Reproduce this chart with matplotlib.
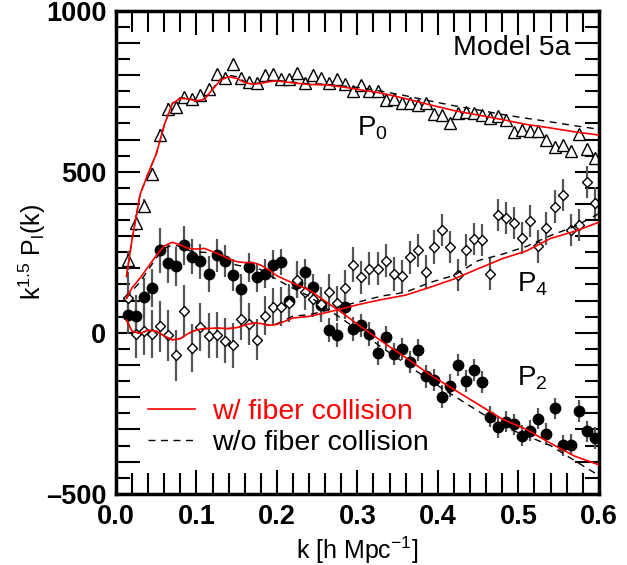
# multipoles of the power spectrum, Model 5a

import matplotlib
matplotlib.use('Agg')
import matplotlib.pyplot as plt
from matplotlib.ticker import MultipleLocator, FuncFormatter
from matplotlib.lines import Line2D

plt.rcParams['font.family'] = ['Liberation Sans', 'DejaVu Sans']
plt.rcParams['mathtext.default'] = 'regular'

# measured points (k in h/Mpc)
k_data = [0.005 + 0.01 * i for i in range(1, 60)]

p0 = [225, 340, 394, 493, 614, 696, 700, 731, 726, 738,
      756, 803, 791, 834, 792, 779, 777, 800, 804, 788,
      787, 808, 776, 801, 790, 777, 788, 772, 752, 769,
      752, 751, 722, 727, 715, 715, 707, 712, 679, 675,
      652, 684, 685, 681, 675, 668, 673, 660, 623, 629,
      627, 627, 598, 578, 583, 564, 616, 570, 543]
p0_err = [30, 25, 22, 20, 20, 18, 18, 17, 16, 16,
          16, 16, 16, 16, 15, 15, 15, 15, 15, 15,
          15, 15, 15, 15, 15, 15, 15, 15, 15, 15,
          15, 15, 15, 15, 15, 15, 15, 15, 15, 15,
          15, 15, 15, 15, 15, 15, 15, 15, 15, 15,
          15, 15, 15, 15, 15, 15, 15, 15, 15]

p2 = [55, 51, 111, 139, 256, 216, 206, 272, 236, 222,
      183, 240, 222, 180, 136, 203, 173, 183, 211, 220,
      99, 156, 190, 142, 86, 9, -7, 80, 11, 23,
      -4, -63, -14, -66, -50, -91, -53, -135, -146, -198,
      -164, -100, -150, -115, -153, -260, -292, -276, -284, -319,
      -304, -267, -314, -235, -349, -348, -243, -306, -327]
p2_err = [60, 65, 60, 60, 70, 60, 60, 60, 55, 55,
          55, 50, 50, 50, 45, 45, 45, 45, 45, 40,
          40, 40, 40, 40, 40, 38, 38, 38, 38, 36,
          36, 36, 36, 35, 35, 35, 35, 35, 35, 35,
          35, 35, 35, 34, 34, 34, 34, 33, 33, 33,
          33, 33, 33, 33, 33, 33, 33, 33, 33]

p4 = [109, -3, 5, -3, 20, -8, -70, 67, -47, 18,
      -9, -7, -24, -39, 43, 26, -21, 53, 80, 81,
      93, 165, 128, 104, 88, 128, 91, 140, 212, 172,
      199, 199, 224, 183, 175, 234, 256, 189, 267, 318,
      266, 180, 256, 291, 289, 183, 366, 357, 341, 294,
      348, 268, 324, 392, 429, 319, 335, 468, 403]
p4_err = [80, 75, 75, 75, 80, 80, 80, 80, 75, 75,
          70, 70, 70, 70, 65, 65, 65, 60, 60, 60,
          58, 58, 58, 55, 55, 55, 55, 55, 55, 52,
          52, 52, 52, 52, 52, 52, 52, 52, 52, 50,
          50, 50, 50, 50, 50, 50, 50, 50, 50, 50,
          50, 50, 50, 50, 50, 50, 50, 50, 50]

# model curves
k_mod = [0.013, 0.02, 0.03, 0.04, 0.05, 0.06, 0.07, 0.08, 0.09, 0.10,
         0.11, 0.12, 0.13, 0.14, 0.15, 0.16, 0.17, 0.18, 0.19, 0.20,
         0.22, 0.24, 0.26, 0.28, 0.30, 0.33, 0.36, 0.39, 0.42, 0.45,
         0.48, 0.51, 0.54, 0.57, 0.60]

p0_fc = [175, 290, 430, 495, 555, 645, 712, 728, 726, 720,
         725, 756, 785, 795, 790, 777, 772, 774, 780, 782,
         776, 771, 770, 764, 756, 744, 727, 708, 690, 676,
         662, 647, 636, 624, 614]
p0_nofc = [175, 290, 430, 495, 555, 645, 712, 730, 728, 722,
           727, 758, 788, 800, 795, 780, 774, 776, 782, 784,
           778, 773, 772, 767, 762, 750, 736, 720, 705, 692,
           678, 666, 655, 643, 632]

p2_fc = [107, 140, 170, 205, 240, 270, 281, 273, 262, 260,
         262, 252, 242, 230, 221, 218, 218, 210, 195, 177,
         154, 133, 98, 64, 27, -26, -77, -130, -176, -222,
         -268, -300, -343, -383, -410]
p2_nofc = [107, 130, 158, 195, 232, 262, 273, 268, 256, 250,
           250, 245, 233, 220, 210, 206, 205, 196, 180, 165,
           138, 114, 78, 45, 10, -45, -96, -148, -196, -243,
           -290, -320, -350, -397, -443]

p4_fc = [40, 5, -2, 8, 5, -10, -22, -18, -2, 9,
         13, 14, 14, 13, 16, 24, 30, 29, 23, 26,
         46, 51, 62, 74, 87, 103, 117, 141, 167, 199,
         230, 254, 293, 315, 343]
p4_nofc = [40, 5, -2, 8, 5, -10, -22, -18, -2, 9,
           13, 14, 14, 13, 16, 24, 30, 29, 24, 28,
           52, 56, 68, 83, 95, 114, 126, 156, 178, 224,
           244, 268, 302, 330, 370]

fig = plt.figure(figsize=(6.27, 5.65), dpi=100)
ax = fig.add_axes([0.185, 0.126, 0.77, 0.855])

ebar = dict(ecolor='#555555', elinewidth=1.6, capsize=0, linestyle='none', zorder=2)
ax.errorbar(k_data, p0, yerr=p0_err, marker='^', ms=8, mfc='white', mec='black', mew=1, **ebar)
ax.errorbar(k_data, p2, yerr=p2_err, marker='o', ms=7.5, mfc='black', mec='black', **ebar)
ax.errorbar(k_data, p4, yerr=p4_err, marker='D', ms=5.5, mfc='white', mec='black', mew=1, **ebar)

for fc, nofc in [(p0_fc, p0_nofc), (p2_fc, p2_nofc), (p4_fc, p4_nofc)]:
    ax.plot(k_mod, nofc, color='black', lw=1, ls=(0, (5, 4)), zorder=3)
    ax.plot(k_mod, fc, color='red', lw=1.2, zorder=4)

ax.set_xlim(0, 0.6)
ax.set_ylim(-500, 1000)

ax.xaxis.set_major_locator(MultipleLocator(0.1))
ax.xaxis.set_minor_locator(MultipleLocator(0.02))
ax.yaxis.set_major_locator(MultipleLocator(100))
ax.yaxis.set_minor_locator(MultipleLocator(50))
ax.xaxis.set_major_formatter(FuncFormatter(lambda v, p: '%.1f' % v))
ax.yaxis.set_major_formatter(FuncFormatter(
    lambda v, p: ('%d' % round(v)).replace('-', '\u2013') if round(v) % 500 == 0 else ''))

ax.tick_params(which='both', direction='in', top=True, right=True, width=1.5)
ax.tick_params(which='major', length=17)
ax.tick_params(which='minor', length=10)
ax.tick_params(axis='x', which='minor', length=15)
ax.tick_params(axis='both', which='major', labelsize=19.5, pad=7)
for lab in ax.get_xticklabels() + ax.get_yticklabels():
    lab.set_fontweight('bold')
for sp in ax.spines.values():
    sp.set_linewidth(2.5)

ax.set_xlabel('k [h Mpc$^{\u22121}$]', fontsize=18)
ax.set_ylabel('k$^{1.5}$ P$_l$(k)', fontsize=18)
ax.xaxis.set_label_coords(0.5, -0.085)
ax.yaxis.set_label_coords(-0.14, 0.5)

ax.text(0.565, 885, 'Model 5a', fontsize=20.5, ha='right', va='center')
ax.text(0.300, 635, 'P$_0$', fontsize=20, ha='left', va='center')
ax.text(0.498, 150, 'P$_4$', fontsize=20, ha='left', va='center')
ax.text(0.498, -140, 'P$_2$', fontsize=20, ha='left', va='center')

handles = [Line2D([], [], color='red', lw=1.2),
           Line2D([], [], color='black', lw=1, ls=(0, (5, 4)))]
leg = ax.legend(handles, ['w/ fiber collision', 'w/o fiber collision'],
                loc='upper left', bbox_to_anchor=(0.066, 0.197), frameon=False,
                fontsize=20.5, handlelength=1.65, handletextpad=0.6,
                labelspacing=0.2, borderpad=0, borderaxespad=0)
leg.get_texts()[0].set_color('red')

fig.savefig('out.png', dpi=100)
